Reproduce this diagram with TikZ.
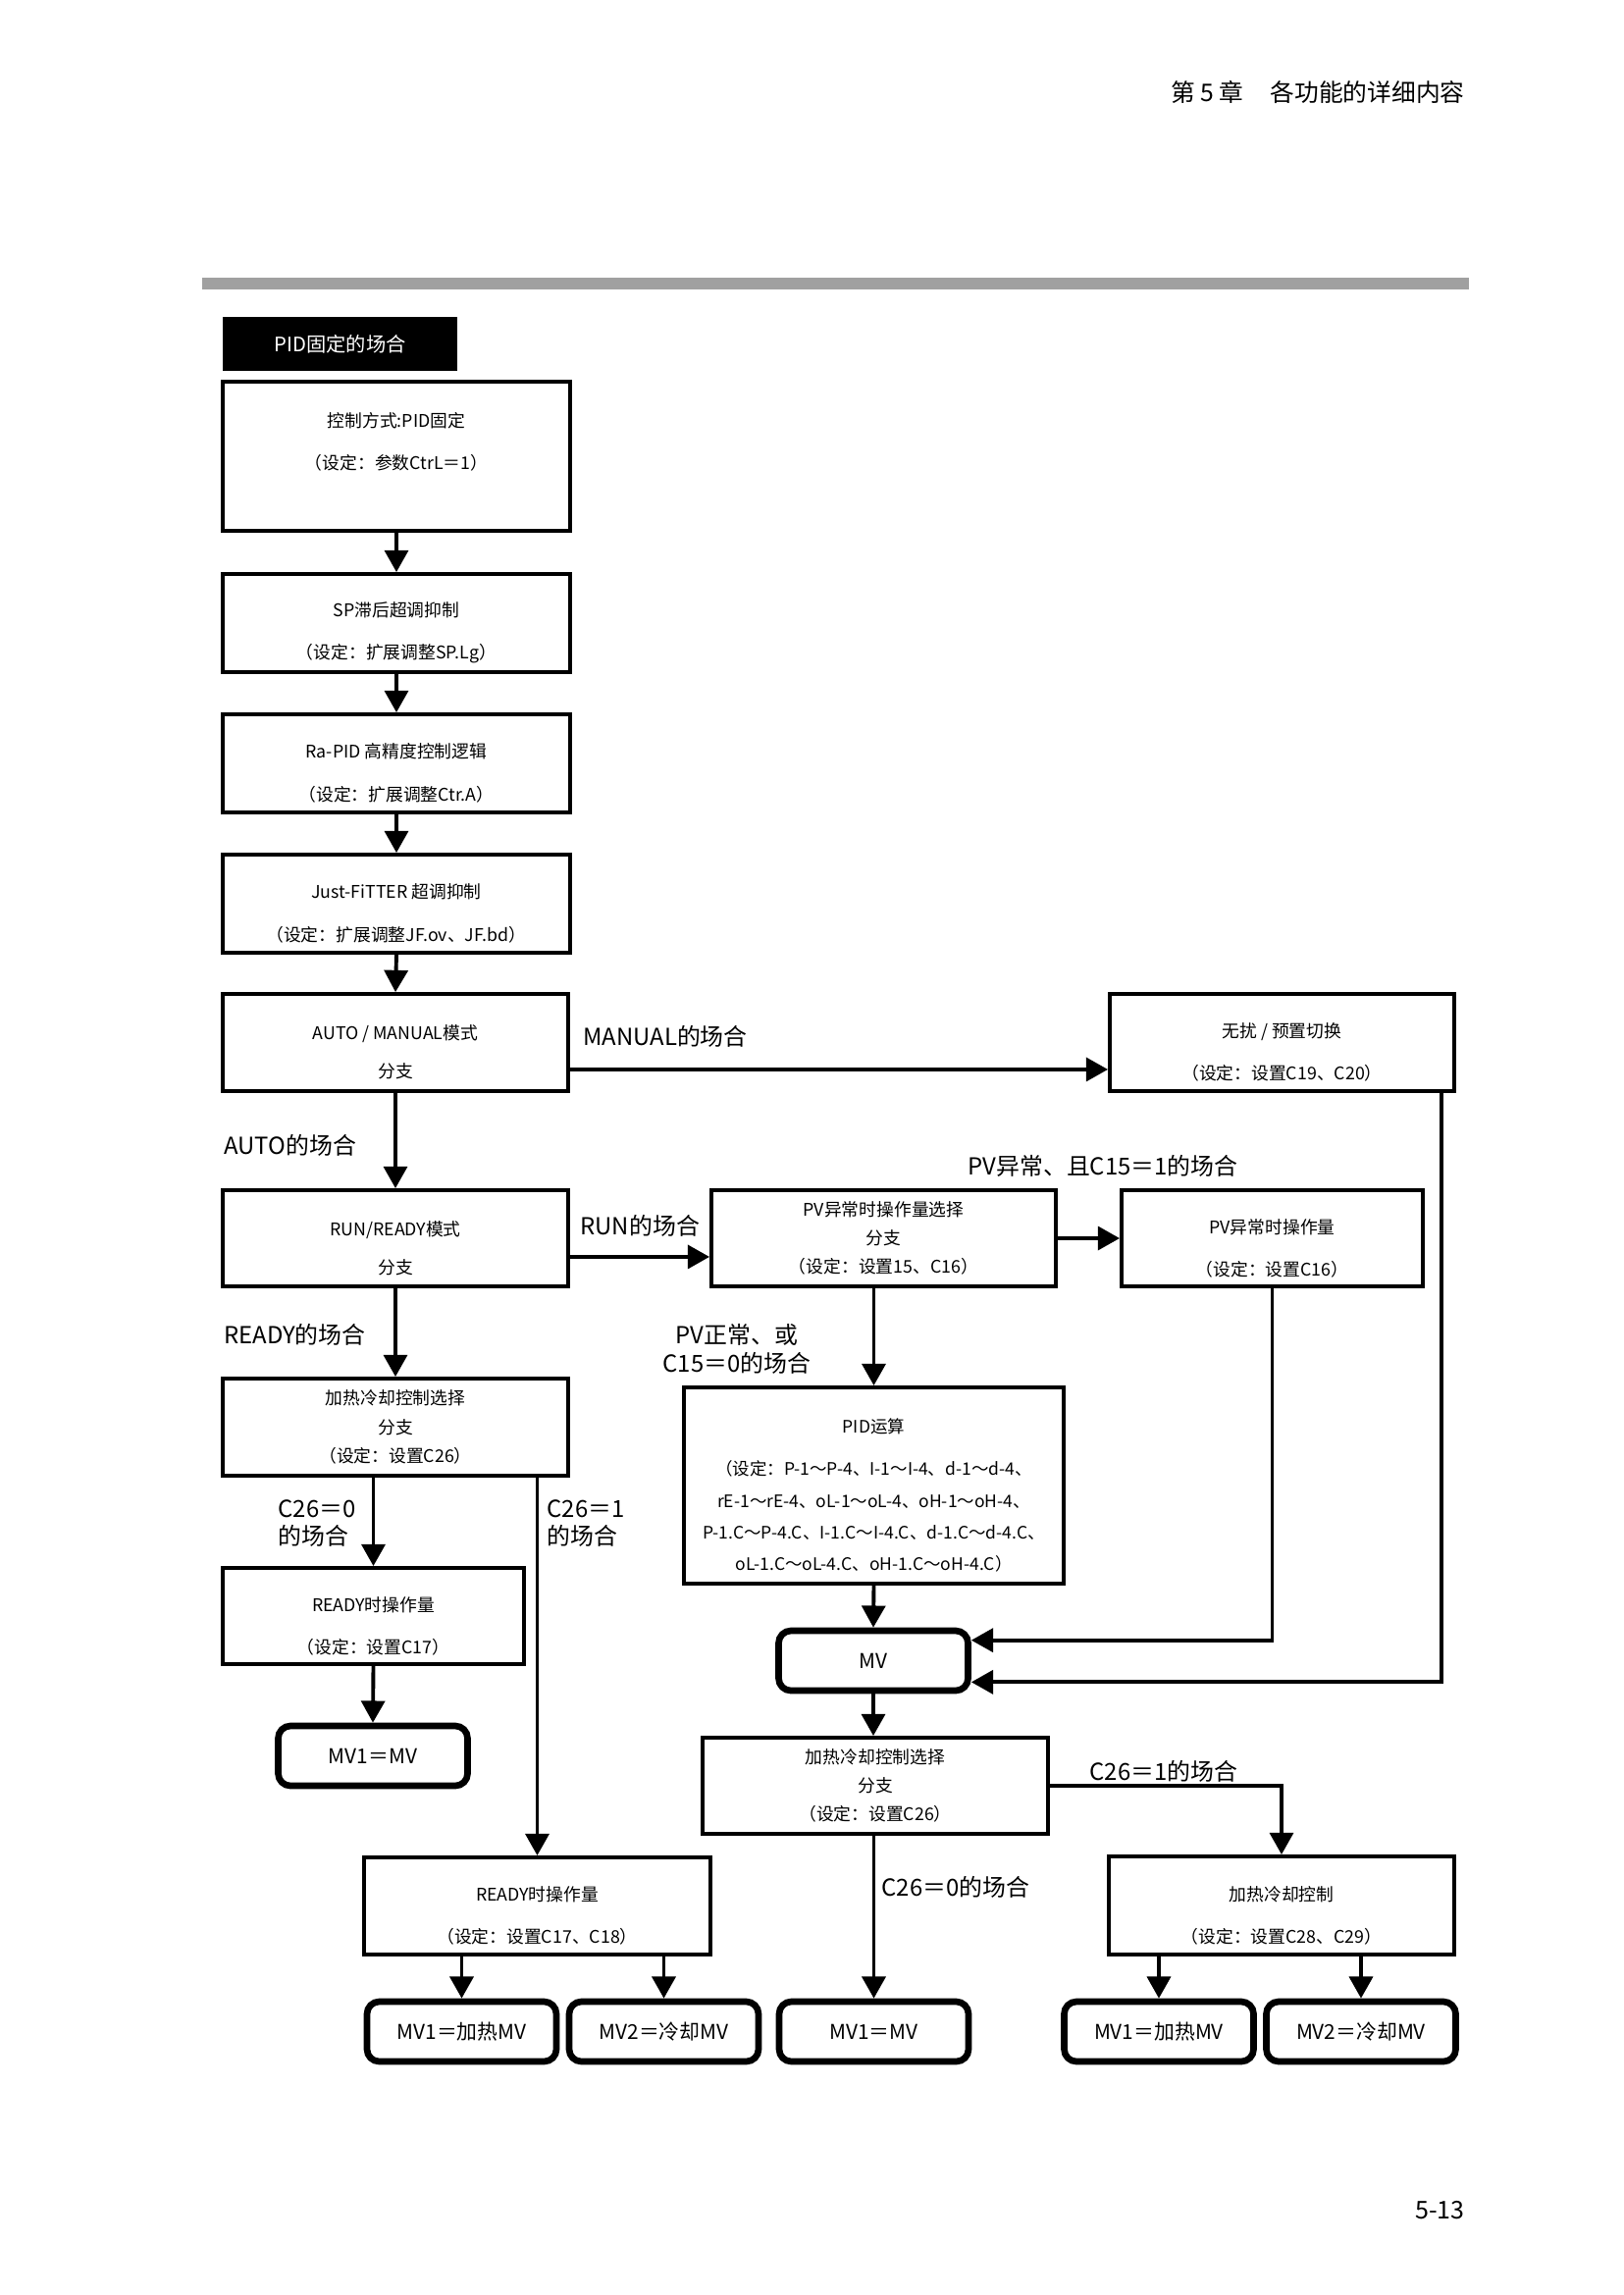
\documentclass[tikz,border=0pt]{standalone}
\usepackage{fontspec}
\setmainfont{Noto Sans CJK SC}
\usetikzlibrary{arrows.meta,calc}
\newdimen\px \px=0.36pt
\definecolor{bargray}{RGB}{160,160,160}
\newcommand\dn{\rule{0pt}{12.5pt}}
\newcommand\upp{\rule[-11pt]{0pt}{11pt}}
\tikzset{
  box/.style={draw, line width=1.4pt, align=center, inner sep=0pt, font=\fontsize{6.4}{15.5}\selectfont},
  box3/.style={box, font=\fontsize{6.4}{10.5}\selectfont},
  rbox/.style={draw, line width=2.4pt, rounded corners=4.5pt, inner sep=0pt, minimum width=193\px, minimum height=61\px, font=\fontsize{7.5}{9}\selectfont},
  lbl/.style={inner sep=0pt, font=\fontsize{8.6}{10.4}\selectfont, align=left},
  arr/.style={line width=1.4pt, -{Triangle[width=8.6pt,length=8pt]}},
}
\begin{document}
\begin{tikzpicture}[x=0.36pt,y=-0.36pt]
\fill[white] (0,0) rectangle (1654,2339);
\useasboundingbox (0,0) rectangle (1654,2339);

% page header
\node[anchor=east, inner sep=0pt, font=\fontsize{8.9}{10}\selectfont] (chap) at (1493,94) {第 5 章\hspace{1.1em}各功能的详细内容};
\fill[bargray] (206,283) rectangle (1497,295);
\node[fill=black, text=white, minimum width=239\px, minimum height=55\px, inner sep=0pt, font=\fontsize{7.3}{9}\selectfont] (hdr) at (346.5,350.5) {PID固定的场合};

% left column
\node[box, minimum width=354\px, minimum height=152\px] (b1) at (404,465) {控制方式:PID固定\\（设定：参数CtrL＝1）\upp};
\node[box, minimum width=354\px, minimum height=100\px] (b2) at (404,635) {\dn SP滞后超调抑制\\（设定：扩展调整SP.Lg）};
\node[box, minimum width=354\px, minimum height=100\px] (b3) at (404,778) {\dn Ra-PID 高精度控制逻辑\\（设定：扩展调整Ctr.A）};
\node[box, minimum width=354\px, minimum height=100\px] (b4) at (404,921) {\dn Just-FiTTER 超调抑制\\（设定：扩展调整JF.ov、JF.bd）};
\node[box, minimum width=352\px, minimum height=99\px, font=\fontsize{6.4}{14}\selectfont] (b5) at (403,1062.5) {\dn AUTO / MANUAL模式\\分支};
\node[box, minimum width=351\px, minimum height=99\px] (nb) at (1306.5,1062.5) {\dn 无扰 / 预置切换\\（设定：设置C19、C20）};
\node[box, minimum width=352\px, minimum height=98\px, font=\fontsize{6.4}{14}\selectfont] (run) at (403,1262) {\dn RUN/READY模式\\分支};
\node[box3, minimum width=351\px, minimum height=98\px] (pvs) at (900.5,1262) {PV异常时操作量选择\\分支\\（设定：设置15、C16）};
\node[box, minimum width=307\px, minimum height=98\px] (pvm) at (1296.5,1262) {\dn PV异常时操作量\\（设定：设置C16）};
\node[box, minimum width=387\px, minimum height=200\px, font=\fontsize{6.3}{11.6}\selectfont] (pid) at (890.5,1514) {\dn PID运算\\[4pt]（设定：P-1～P-4、I-1～I-4、d-1～d-4、\\rE-1～rE-4、oL-1～oL-4、oH-1～oH-4、\\P-1.C～P-4.C、I-1.C～I-4.C、d-1.C～d-4.C、\\oL-1.C～oL-4.C、oH-1.C～oH-4.C）};
\node[rbox] (mv) at (890,1692.5) {MV};
\node[box3, minimum width=352\px, minimum height=99\px] (hc1) at (403,1454.5) {加热冷却控制选择\\分支\\（设定：设置C26）};
\node[box, minimum width=307\px, minimum height=98\px] (rd1) at (380.5,1647) {\dn READY时操作量\\（设定：设置C17）};
\node[rbox] (mvl) at (380,1789.5) {MV1＝MV};
\node[box3, minimum width=352\px, minimum height=98\px] (hc2) at (892,1820) {加热冷却控制选择\\分支\\（设定：设置C26）};
\node[box, minimum width=352\px, minimum height=100\px] (hcc) at (1306,1942) {\dn 加热冷却控制\\（设定：设置C28、C29）};
\node[box, minimum width=353\px, minimum height=99\px] (rd2) at (547.5,1942.5) {\dn READY时操作量\\（设定：设置C17、C18）};
\node[rbox] (r1) at (470.5,2070.5) {MV1＝加热MV};
\node[rbox] (r2) at (676.5,2070.5) {MV2＝冷却MV};
\node[rbox] (r3) at (890.5,2070.5) {MV1＝MV};
\node[rbox] (r4) at (1181,2070.5) {MV1＝加热MV};
\node[rbox] (r5) at (1387,2070.5) {MV2＝冷却MV};

% connectors
\draw[arr] (b1.south) -- (b2.north);
\draw[arr] (b2.south) -- (b3.north);
\draw[arr] (b3.south) -- (b4.north);
\draw[arr] (b4.south) -- (b5.north);
\coordinate (mo) at ($(b5.south east)+(0,-24)$);
\draw[arr] (mo) -- (nb.west |- mo);
\draw[arr] (b5.south) -- (run.north);
\coordinate (ro) at ($(run.south east)+(0,-32)$);
\draw[arr] (ro) -- (pvs.west |- ro);
\draw[arr] (pvs.east) -- (pvm.west);
\draw[arr] (pid.north |- pvs.south) -- (pid.north);
\draw[arr] (pid.south) -- (mv.north);
\coordinate (mvin1) at ($(mv.north east)+(0,13)$);
\coordinate (mvin2) at ($(mv.south east)+(0,-12)$);
\draw[arr] (pvm.south) |- (mvin1);
\coordinate (nbo) at ($(nb.south east)+(-15,0)$);
\draw[arr] (nbo) |- (mvin2);
\draw[arr] (run.south) -- (hc1.north);
\draw[arr] (rd1.north |- hc1.south) -- (rd1.north);
\draw[arr] (rd2.north |- hc1.south) -- (rd2.north);
\draw[arr] (rd1.south) -- (mvl.north);
\draw[arr] (mv.south) -- (mv.south |- hc2.north);
\draw[arr] (r3.north |- hc2.south) -- (r3.north);
\draw[arr] (hc2.east) -| (hcc.north);
\draw[arr] (r1.north |- rd2.south) -- (r1.north);
\draw[arr] (r2.north |- rd2.south) -- (r2.north);
\draw[arr] (r4.north |- hcc.south) -- (r4.north);
\draw[arr] (r5.north |- hcc.south) -- (r5.north);

% labels
\node[lbl, anchor=west] (lman) at (594,1056) {MANUAL的场合};
\node[lbl, anchor=west] (lauto) at (228,1167) {AUTO的场合};
\node[lbl, anchor=west] (lrun) at (591,1249) {RUN的场合};
\node[lbl, anchor=west] (lpv1) at (986,1188) {PV异常、且C15＝1的场合};
\node[lbl, anchor=west] (lready) at (228,1360) {READY的场合};
\node[lbl, align=center] (lpv0) at (751,1375) {PV正常、或\\C15＝0的场合};
\node[lbl, anchor=west] (lc0) at (283,1552.5) {C26＝0\\的场合};
\node[lbl, anchor=west] (lc1) at (557,1552.5) {C26＝1\\的场合};
\node[lbl, anchor=west] (lc1b) at (1110,1805) {C26＝1的场合};
\node[lbl, anchor=west] (lc0b) at (898,1923) {C26＝0的场合};
\node[anchor=east, inner sep=0pt, font=\fontsize{9}{10}\selectfont] (pg) at (1493,2253) {5-13};
\end{tikzpicture}
\end{document}
